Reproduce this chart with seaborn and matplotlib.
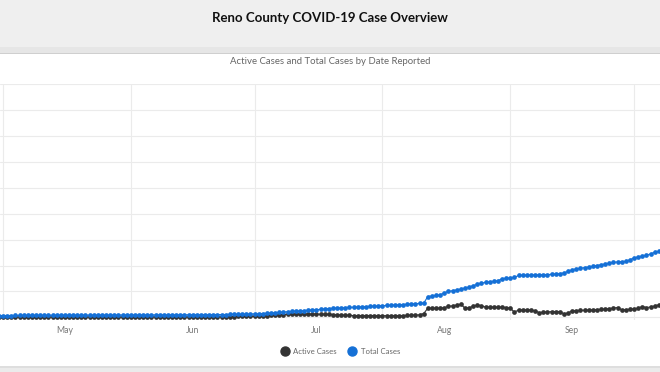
import numpy as np
import pandas as pd
import matplotlib
matplotlib.use("Agg")
import matplotlib.pyplot as plt
import matplotlib.dates as mdates
from matplotlib.lines import Line2D
from matplotlib.patches import Rectangle
import seaborn as sns

# --- data (one point per day) ---
# y axis labels are cropped off in the original, so the scale is an estimate
dates = pd.date_range("2020-04-30", "2020-10-07", freq="D")

total_apr = [14]
total_may = [14, 14, 14, 15, 15, 15, 15, 15, 15, 15, 15, 16, 16, 16, 16, 16, 16, 16, 16, 16,
             17, 17, 17, 17, 17, 17, 17, 18, 18, 18, 18]
total_jun = [18, 18, 18, 18, 18, 19, 19, 19, 19, 19, 19, 19, 20, 20, 20, 20, 20, 21, 21, 21,
             21, 22, 22, 22, 23, 23, 24, 24, 25, 26]
total_jul = [27, 28, 30, 32, 34, 36, 38, 41, 44, 46, 48, 50, 52, 55, 57, 59, 62, 65, 68, 70,
             72, 73, 75, 77, 78, 80, 81, 83, 85, 87, 88]
total_aug = [90, 92, 93, 95, 97, 99, 101, 103, 105, 108, 110, 161, 165, 170, 174, 190, 200, 206, 212, 218,
             226, 234, 245, 255, 265, 270, 274, 279, 283, 298, 301]
total_sep = [305, 308, 324, 325, 326, 326, 327, 328, 329, 330, 332, 335, 338, 343, 355, 368, 373, 379, 384, 389,
             394, 400, 406, 412, 418, 424, 428, 430, 432, 445]
total_oct = [458, 467, 473, 479, 490, 502, 510]

active_apr = [4]
active_may = [5, 4, 4, 3, 3, 3, 4, 4, 5, 5, 4, 4, 3, 3, 3, 3, 4, 4, 4, 3,
              3, 3, 3, 3, 4, 4, 4, 4, 3, 3, 3]
active_jun = [3, 3, 3, 3, 3, 4, 4, 4, 4, 4, 4, 4, 4, 4, 4, 4, 5, 5, 5, 5,
              5, 5, 5, 6, 6, 6, 7, 7, 7, 8]
active_jul = [8, 10, 12, 14, 16, 18, 20, 22, 24, 25, 25, 25, 25, 25, 25, 25, 24, 24, 23, 22,
              20, 18, 16, 15, 14, 14, 14, 14, 14, 14, 13]
active_aug = [13, 13, 13, 13, 14, 14, 15, 16, 17, 20, 30, 71, 71, 71, 71, 75, 85, 89, 95, 102,
              71, 75, 85, 97, 90, 79, 79, 79, 79, 79, 76]
active_sep = [71, 40, 58, 58, 58, 58, 50, 37, 40, 42, 44, 45, 45, 27, 35, 50, 52, 54, 55, 56,
              58, 60, 62, 64, 67, 72, 76, 58, 60, 62]
active_oct = [66, 70, 84, 76, 80, 88, 97]

total_cases = total_apr + total_may + total_jun + total_jul + total_aug + total_sep + total_oct
active_cases = active_apr + active_may + active_jun + active_jul + active_aug + active_sep + active_oct

series_names = ["Active Cases", "Total Cases"]
series_colors = ["#333333", "#1570d6"]
month_labels = ["May", "Jun", "Jul", "Aug", "Sep"]

df = pd.DataFrame({
    "date": list(dates) * 2,
    "cases": active_cases + total_cases,
    "series": [series_names[0]] * len(dates) + [series_names[1]] * len(dates),
})

# --- figure ---
sns.set_style("white")
plt.rcParams["font.family"] = ["Lato", "DejaVu Sans"]

W, H = 660, 372
fig = plt.figure(figsize=(6.6, 3.72), dpi=100)

# header band + bottom band (pixel coords -> figure fractions)
def px_rect(y0, y1, color):
    fig.patches.append(Rectangle((0, 1 - y1 / H), 1, (y1 - y0) / H, transform=fig.transFigure,
                                 facecolor=color, edgecolor="none", zorder=0))

px_rect(0, 47, "#efefef")
px_rect(47, 53, "#e6e6e6")
px_rect(52.5, 54, "#cfcfcf")
px_rect(366, 368, "#dedede")
px_rect(368, 372, "#ebebeb")

fig.text(0.5, 1 - 18 / H, "Reno County COVID-19 Case Overview", ha="center", va="center",
         fontsize=9.5, fontweight="bold", color="#111111")
fig.text(0.5, 1 - 62 / H, "Active Cases and Total Cases by Date Reported", ha="center", va="center",
         fontsize=6.9, color="#666666")

# plot area: top gridline at y=84px, bottom ~320px, runs off both sides of the crop
ax = fig.add_axes([0, 1 - 320 / H, 1, (320 - 84) / H])
sns.lineplot(data=df, x="date", y="cases", hue="series", hue_order=series_names,
             palette=series_colors, marker="o", markersize=3.4, markeredgewidth=0,
             linewidth=0.8, legend=False, ax=ax)

ax.set_xlim(pd.Timestamp("2020-04-30 06:30"), pd.Timestamp("2020-10-07 07:00"))
ax.set_ylim(-20, 1800)
ax.set_yticks(np.arange(0, 1801, 200))
ax.set_yticklabels([])
ax.xaxis.set_major_locator(mdates.MonthLocator())
ax.xaxis.set_major_formatter(plt.NullFormatter())
ax.xaxis.set_minor_locator(mdates.MonthLocator(bymonthday=16))
ax.xaxis.set_minor_formatter(mdates.DateFormatter("%b"))
ax.tick_params(axis="x", which="both", length=0, pad=4)
ax.tick_params(axis="x", which="minor", labelsize=6.2, labelcolor="#777777")
ax.tick_params(axis="y", length=0)
ax.grid(True, which="major", color="#ebebeb", linewidth=0.8)
ax.set_axisbelow(True)
ax.set_xlabel("")
ax.set_ylabel("")
for s in ax.spines.values():
    s.set_visible(False)

handles = [Line2D([], [], marker="o", linestyle="none", markersize=6.5, color=c) for c in series_colors]
fig.legend(handles, series_names, loc="center", bbox_to_anchor=(0.513, 1 - 351 / H), ncol=2,
           frameon=False, fontsize=5.6, labelcolor="#666666", handletextpad=0.1, columnspacing=1.0)

fig.savefig("out.png", dpi=100, facecolor="white")
